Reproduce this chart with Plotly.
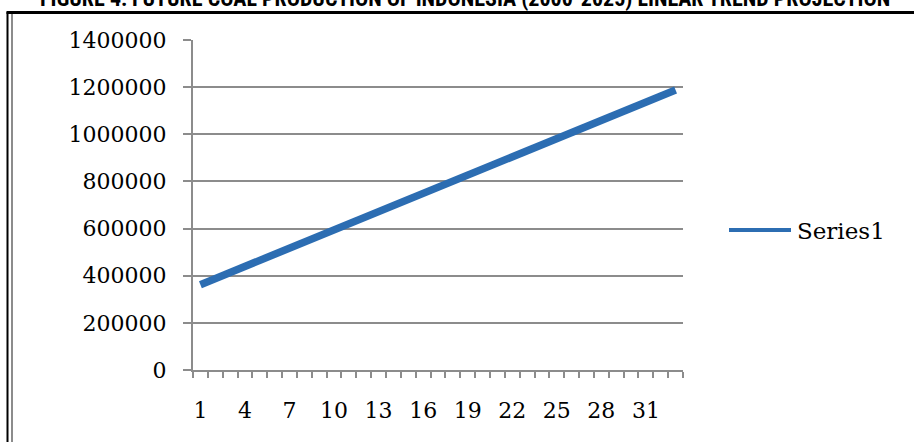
import plotly.graph_objects as go

# Projection periods (1 = first year of the series)
periods = [1, 2, 3, 4, 5, 6, 7, 8, 9, 10, 11, 12, 13, 14, 15, 16, 17,
           18, 19, 20, 21, 22, 23, 24, 25, 26, 27, 28, 29, 30, 31, 32, 33]

# Linear-trend projection of coal production
series1 = [362000, 388000, 413000, 439000, 465000, 491000, 517000, 543000,
           568000, 594000, 620000, 646000, 672000, 697000, 723000, 749000,
           775000, 801000, 826000, 852000, 878000, 904000, 930000, 955000,
           981000, 1007000, 1033000, 1059000, 1084000, 1110000, 1136000,
           1162000, 1188000]

series_name = "Series1"

x_tick_vals = [1, 4, 7, 10, 13, 16, 19, 22, 25, 28, 31]
x_tick_text = ["1", "4", "7", "10", "13", "16", "19", "22", "25", "28", "31"]
y_tick_vals = [0, 200000, 400000, 600000, 800000, 1000000, 1200000, 1400000]
y_tick_text = ["0", "200000", "400000", "600000", "800000", "1000000",
               "1200000", "1400000"]

title_text = "FIGURE 4: FUTURE COAL PRODUCTION OF INDONESIA (2000-2025) LINEAR TREND PROJECTION"

W, H = 914, 442
L, R, T, B = 193, 231, 40, 72
pw, ph = W - L - R, H - T - B


def px_x(px):
    return (px - L) / pw


def px_y(py):
    return (H - B - py) / ph


serif = "DejaVu Serif, Liberation Serif, serif"
grid = "#8c8c8c"
blue = "#2c6db2"

fig = go.Figure()
fig.add_trace(go.Scatter(
    x=periods, y=series1, mode="lines", name=series_name,
    line=dict(color=blue, width=7.5),
    showlegend=False,
))

fig.update_layout(
    width=W, height=H,
    margin=dict(l=L, r=R, t=T, b=B, pad=0),
    paper_bgcolor="white", plot_bgcolor="white",
    xaxis=dict(
        range=[0.5, 33.5], tickmode="array",
        tickvals=x_tick_vals, ticktext=x_tick_text,
        showgrid=False, zeroline=False,
        showline=True, linecolor=grid, linewidth=2,
        ticks="", ticklabelstandoff=20,
        tickfont=dict(family=serif, size=22, color="black"),
        minor=dict(tick0=0.5, dtick=1, ticks="outside", ticklen=6,
                   tickcolor=grid, tickwidth=2, showgrid=False),
    ),
    yaxis=dict(
        range=[0, 1400000], tickmode="array",
        tickvals=y_tick_vals, ticktext=y_tick_text,
        showgrid=True, gridcolor=grid, gridwidth=2,
        zeroline=False,
        showline=True, linecolor=grid, linewidth=2,
        ticks="outside", ticklen=8, tickcolor=grid, tickwidth=2,
        ticklabelstandoff=12,
        tickfont=dict(family=serif, size=22, color="black"),
    ),
)

# Legend key: line sample plus series name
fig.add_shape(type="line", xref="paper", yref="paper",
              x0=px_x(729), x1=px_x(791), y0=px_y(230), y1=px_y(230),
              line=dict(color=blue, width=4))
fig.add_annotation(
    text=series_name, xref="paper", yref="paper",
    x=px_x(795), y=px_y(231), xanchor="left", yanchor="middle",
    showarrow=False,
    font=dict(family=serif, size=23, color="black"),
)

# Frame around the figure: double rule on the left, heavy rule on top
fig.add_shape(type="line", xref="paper", yref="paper",
              x0=px_x(7.5), x1=px_x(7.5), y0=px_y(12), y1=px_y(450),
              line=dict(color="black", width=2))
fig.add_shape(type="line", xref="paper", yref="paper",
              x0=px_x(12), x1=px_x(12), y0=px_y(14), y1=px_y(450),
              line=dict(color="#8c8c8c", width=2))
fig.add_shape(type="line", xref="paper", yref="paper",
              x0=px_x(6.5), x1=px_x(920), y0=px_y(12.5), y1=px_y(12.5),
              line=dict(color="black", width=3))

fig.add_annotation(
    text="<b>" + title_text + "</b>",
    xref="paper", yref="paper", x=px_x(465), y=px_y(-1),
    xanchor="center", yanchor="middle", showarrow=False,
    font=dict(family="Liberation Sans Narrow, Arial Narrow, Roboto Condensed, DejaVu Sans Condensed, sans-serif",
              size=22, color="black"),
)

fig.write_html("out.html")
